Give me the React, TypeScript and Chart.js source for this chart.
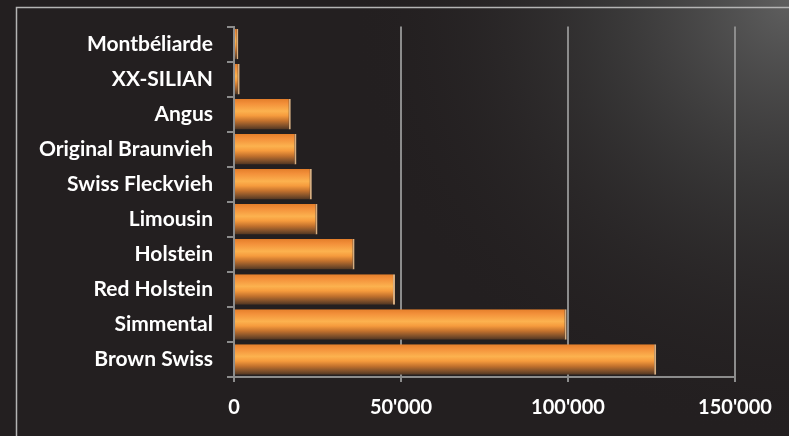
import React, { useEffect, useRef } from "react";
import { Chart, registerables } from "chart.js";

Chart.register(...registerables);

const categories = [
  "Montbéliarde",
  "XX-SILIAN",
  "Angus",
  "Original Braunvieh",
  "Swiss Fleckvieh",
  "Limousin",
  "Holstein",
  "Red Holstein",
  "Simmental",
  "Brown Swiss",
];
const values = [1300, 1700, 17000, 18700, 23300, 25000, 36100, 48200, 99600, 126400];
const xTicks = [0, 50000, 100000, 150000];

const FONT = "Lato, 'Open Sans', sans-serif";

const bgPlugin = {
  id: "bg",
  beforeDraw(chart: any) {
    const { ctx, width, height } = chart;
    ctx.save();
    ctx.fillStyle = "#231f20";
    ctx.fillRect(0, 0, width, height);
    const g = ctx.createRadialGradient(width, 0, 0, width, 0, 440);
    g.addColorStop(0, "rgba(95,95,95,1)");
    g.addColorStop(0.45, "rgba(62,62,62,0.65)");
    g.addColorStop(1, "rgba(35,31,32,0)");
    ctx.fillStyle = g;
    ctx.fillRect(0, 0, width, height);
    ctx.strokeStyle = "#b4b4b4";
    ctx.lineWidth = 1.5;
    ctx.beginPath();
    ctx.moveTo(16.5, height);
    ctx.lineTo(16.5, 7.5);
    ctx.lineTo(width, 7.5);
    ctx.stroke();
    ctx.restore();
  },
};

const barGradientPlugin = {
  id: "barGradient",
  beforeDatasetDraw(chart: any, args: any) {
    const { ctx } = chart;
    const meta = args.meta;
    meta.data.forEach((el: any) => {
      const h = el.height;
      const top = el.y - h / 2;
      const g = ctx.createLinearGradient(0, top, 0, top + h);
      g.addColorStop(0, "#e47e2a");
      g.addColorStop(0.15, "#f3903a");
      g.addColorStop(0.4, "#fcb24f");
      g.addColorStop(0.55, "#f69b3d");
      g.addColorStop(0.72, "#c2712d");
      g.addColorStop(0.88, "#80502a");
      g.addColorStop(1, "#4f3522");
      el.options = { ...el.options, backgroundColor: g };
    });
  },
};

export default function App() {
  const ref = useRef<HTMLCanvasElement>(null);
  useEffect(() => {
    document.body.style.margin = "0";
    document.body.style.background = "#231f20";
    const chart = new Chart(ref.current!, {
      type: "bar",
      data: {
        labels: categories,
        datasets: [
          {
            data: values,
            backgroundColor: () => "#f39a3c",
            borderColor: "rgba(235,190,140,0.9)",
            borderWidth: { top: 0, bottom: 0, left: 0, right: 2 },
            borderSkipped: "start",
            barPercentage: 0.87,
            categoryPercentage: 1,
          },
        ],
      },
      options: {
        indexAxis: "y",
        responsive: false,
        animation: false,
        layout: { padding: { top: 22, right: 54, bottom: 0, left: 0 } },
        plugins: { legend: { display: false }, tooltip: { enabled: false } },
        scales: {
          x: {
            min: 0,
            max: 150000,
            afterBuildTicks: (s: any) => {
              s.ticks = xTicks.map((v) => ({ value: v }));
            },
            afterFit: (s: any) => {
              s.height = 59;
            },
            ticks: {
              color: "#ffffff",
              font: { family: FONT, size: 20, weight: "bold" },
              padding: 14,
              callback: (v: any) => Number(v).toLocaleString("en-US").replace(/,/g, "'"),
            },
            grid: { color: "#8c8c8c", lineWidth: 2, tickLength: 5 },
            border: { color: "#8c8c8c", width: 2 },
          },
          y: {
            afterFit: (s: any) => {
              s.width = 234;
            },
            ticks: {
              color: "#ffffff",
              font: { family: FONT, size: 21, weight: "bold" },
              padding: 14,
            },
            grid: { color: "#8c8c8c", lineWidth: 2, tickLength: 7, drawOnChartArea: false, offset: true },
            border: { color: "#8c8c8c", width: 2 },
          },
        },
      },
      plugins: [bgPlugin, barGradientPlugin],
    } as any);
    return () => chart.destroy();
  }, []);
  return <canvas ref={ref} width={789} height={436} style={{ display: "block" }} />;
}
